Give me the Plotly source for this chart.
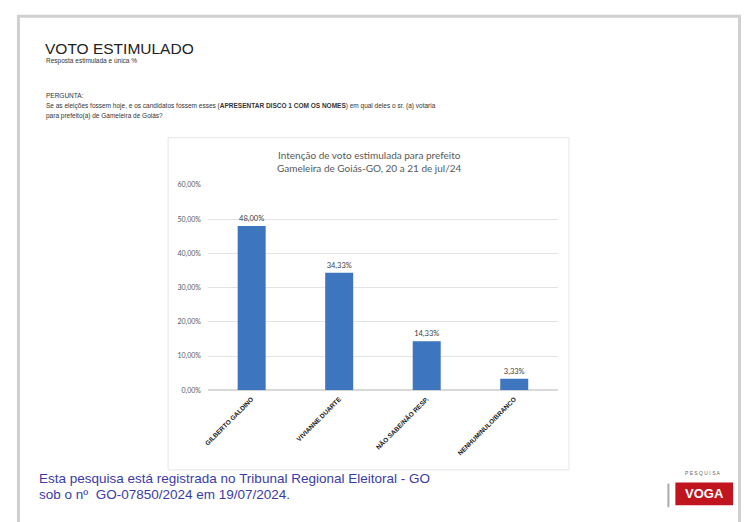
import plotly.graph_objects as go

W, H = 744, 522

categories = ["GILBERTO GALDINO", "VIVIANNE DUARTE", "NÃO SABE/NÃO RESP.", "NENHUM/NULO/BRANCO"]
values = [48.00, 34.33, 14.33, 3.33]
y_ticks = [0, 10, 20, 30, 40, 50, 60]
y_ticktext = ["0,00%", "10,00%", "20,00%", "30,00%", "40,00%", "50,00%", "60,00%"]

def px(x):
    return x / W

def py(y):
    return 1 - y / H

fig = go.Figure()
fig.add_trace(go.Bar(
    x=categories, y=values,
    marker=dict(color="#3d76be", line=dict(width=0)),
    width=0.32,
    texttemplate="%{y:.2f}%",
    textposition="outside",
    textfont=dict(size=7.5, color="#404040", family="Lato"),
    cliponaxis=False,
))

fig.update_layout(
    width=W, height=H,
    margin=dict(l=0, r=0, t=0, b=0),
    paper_bgcolor="white", plot_bgcolor="white",
    separators=",.",
    showlegend=False,
    xaxis=dict(domain=[px(205), px(557)], tickangle=-45,
               tickfont=dict(size=6.5, color="#1a1a1a", family="Liberation Sans"),
               tickprefix="<b>", ticksuffix="</b>", ticklabelstandoff=3,
               showline=False, showgrid=False, ticks=""),
    yaxis=dict(domain=[py(392), py(183)], range=[0, 60], tickvals=y_ticks, ticktext=y_ticktext,
               tickfont=dict(size=7, color="#595959", family="Lato"), ticklabelstandoff=6,
               showgrid=True, gridcolor="#e3e3e3", gridwidth=1,
               zeroline=True, zerolinecolor="#d9d9d9", showline=False, ticks=""),
)

shapes = [
    # page border
    dict(type="rect", xref="paper", yref="paper", x0=px(14.5), x1=px(739.5), y0=py(540), y1=py(11.5),
         line=dict(color="#d0d0d0", width=3), fillcolor="rgba(0,0,0,0)", layer="below"),
    # chart box
    dict(type="rect", xref="paper", yref="paper", x0=px(165), x1=px(568), y0=py(473), y1=py(135),
         line=dict(color="#e6e6e6", width=1), fillcolor="rgba(0,0,0,0)", layer="below"),
    # logo separator
    dict(type="line", xref="paper", yref="paper", x0=px(668), x1=px(668), y0=py(511), y1=py(487),
         line=dict(color="#aaaaaa", width=2)),
    # logo box
    dict(type="rect", xref="paper", yref="paper", x0=px(675), x1=px(733), y0=py(509), y1=py(486),
         line=dict(width=0), fillcolor="#c0141e"),
]
fig.update_layout(shapes=shapes)

ann = [
    dict(x=px(39), y=py(44), text="VOTO ESTIMULADO", font=dict(size=15.5, color="#222222", family="Liberation Sans")),
    dict(x=px(40), y=py(57), text="Resposta estimulada e única %", font=dict(size=6.5, color="#333333", family="Liberation Sans")),
    dict(x=px(40), y=py(92), text="PERGUNTA:", font=dict(size=6.5, color="#333333", family="Liberation Sans")),
    dict(x=px(40), y=py(103), text="Se as eleições fossem hoje, e os candidatos fossem esses (<b>APRESENTAR DISCO 1 COM OS NOMES</b>) em qual deles o sr. (a) votaria",
         font=dict(size=6.5, color="#333333", family="Liberation Sans")),
    dict(x=px(40), y=py(113), text="para prefeito(a) de Gameleira de Goiás?", font=dict(size=6.5, color="#333333", family="Liberation Sans")),
    dict(x=px(33), y=py(482), text="Esta pesquisa está registrada no Tribunal Regional Eleitoral - GO",
         font=dict(size=13.5, color="#3b3ba6", family="Liberation Sans")),
    dict(x=px(33), y=py(498), text="sob o nº  GO-07850/2024 em 19/07/2024.",
         font=dict(size=13.5, color="#3b3ba6", family="Liberation Sans")),
]
for a in ann:
    fig.add_annotation(xref="paper", yref="paper", xanchor="left", yanchor="middle", showarrow=False, **a)

fig.add_annotation(xref="paper", yref="paper", x=px(367), y=py(153), xanchor="center", yanchor="middle",
                   showarrow=False, text="Intenção de voto estimulada para prefeito",
                   font=dict(size=10, color="#595959", family="Lato"))
fig.add_annotation(xref="paper", yref="paper", x=px(367), y=py(166), xanchor="center", yanchor="middle",
                   showarrow=False, text="Gameleira de Goiás-GO, 20 a 21 de jul/24",
                   font=dict(size=10, color="#595959", family="Lato"))
fig.add_annotation(xref="paper", yref="paper", x=px(703), y=py(476), xanchor="center", yanchor="middle",
                   showarrow=False, text="P E S Q U I S A",
                   font=dict(size=5, color="#666666", family="Liberation Sans"))
fig.add_annotation(xref="paper", yref="paper", x=px(704), y=py(497.5), xanchor="center", yanchor="middle",
                   showarrow=False, text="<b>VOGA</b>",
                   font=dict(size=13, color="white", family="Liberation Sans"))

fig.write_html("out.html", config={"displayModeBar": False},
               post_script="document.body.style.margin='0';document.body.style.overflow='hidden';")
